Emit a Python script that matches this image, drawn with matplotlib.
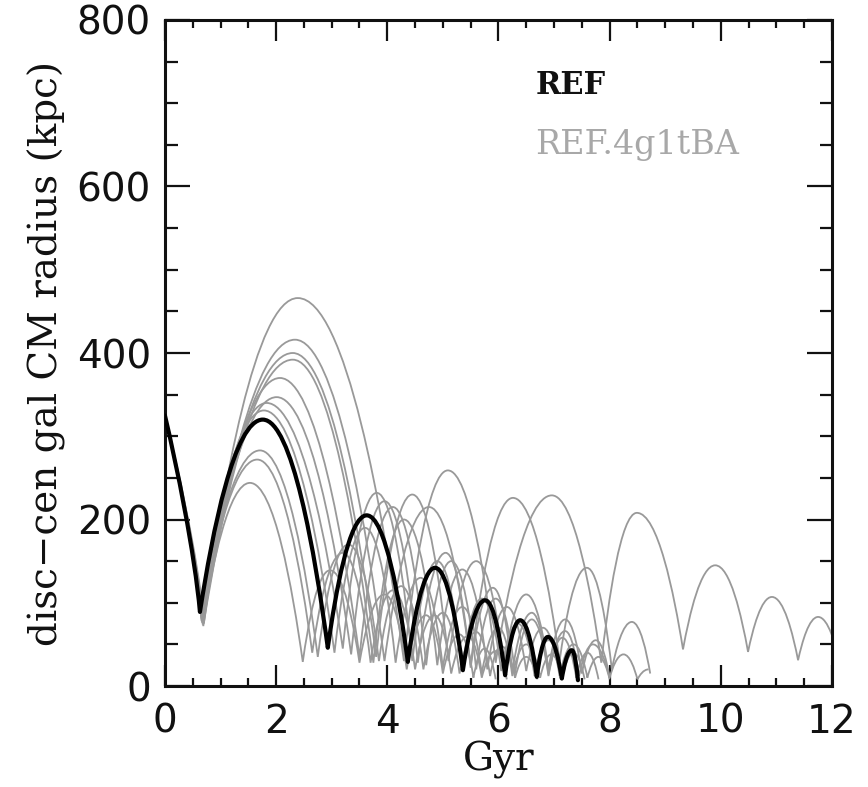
import matplotlib
matplotlib.use("Agg")
import matplotlib.pyplot as plt
from matplotlib.path import Path
from matplotlib.patches import PathPatch

# ---- data: turning points (time in Gyr, radius in kpc) ----
ref_t = [0.0, 0.63, 1.76, 2.93, 3.63, 4.37, 4.86, 5.36, 5.76, 6.12, 6.39, 6.69, 6.89, 7.14, 7.32, 7.43]
ref_r = [325, 89, 320, 46, 205, 29, 142, 19, 103, 13, 79, 11, 59, 9, 43, 7]

ba01_t = [0.0, 0.70, 2.39, 4.30, 5.09, 5.95, 6.96, 7.85, 8.49, 9.32, 9.90, 10.49, 10.92, 11.39, 11.75, 12.15]
ba01_r = [325, 75, 466, 30, 259, 28, 229, 28, 208, 44, 145, 41, 107, 31, 83, 25]
ba02_t = [0.0, 0.70, 2.34, 3.95, 4.75, 5.50, 6.26, 7.10, 7.59, 8.04, 8.40, 8.73]
ba02_r = [325, 80, 416, 30, 215, 25, 226, 30, 142, 20, 77, 15]
ba03_t = [0.0, 0.68, 2.30, 3.80, 4.45, 5.10, 5.60, 6.10, 6.50, 6.90, 7.20, 7.50, 7.75, 8.00]
ba03_r = [325, 78, 400, 35, 230, 30, 150, 25, 110, 20, 80, 15, 55, 10]
ba04_t = [0.0, 0.69, 2.30, 3.75, 4.30, 4.90, 5.35, 5.80, 6.15, 6.50, 6.80, 7.10, 7.35, 7.60, 7.80, 8.00]
ba04_r = [325, 72, 392, 28, 200, 25, 140, 20, 95, 18, 70, 12, 50, 10, 35, 8]
ba05_t = [0.0, 0.67, 2.07, 3.50, 4.10, 4.70, 5.15, 5.60, 5.95, 6.30, 6.60, 6.90, 7.15, 7.40, 7.60, 7.80]
ba05_r = [325, 80, 370, 35, 215, 25, 150, 20, 105, 15, 80, 12, 58, 10, 40, 8]
ba06_t = [0.0, 0.67, 2.01, 3.35, 3.95, 4.55, 5.05, 5.50, 5.90, 6.25, 6.60, 6.90, 7.20, 7.45, 7.70, 8.00, 8.25, 8.50, 8.70]
ba06_r = [325, 76, 347, 38, 222, 28, 160, 22, 118, 18, 88, 14, 66, 12, 50, 10, 38, 8, 20]
ba07_t = [0.0, 0.66, 1.83, 3.20, 3.81, 4.45, 4.90, 5.35, 5.70, 6.05, 6.35, 6.65, 6.90, 7.15, 7.35, 7.55]
ba07_r = [325, 82, 340, 45, 232, 30, 150, 22, 105, 18, 75, 12, 55, 10, 40, 8]
ba08_t = [0.0, 0.65, 1.78, 3.05, 3.60, 4.15, 4.60, 5.00, 5.35, 5.70, 6.00, 6.25, 6.50, 6.75, 6.95, 7.15]
ba08_r = [325, 85, 331, 40, 190, 28, 130, 22, 95, 15, 70, 12, 50, 10, 38, 8]
ba09_t = [0.0, 0.66, 1.71, 2.75, 3.30, 3.85, 4.25, 4.65, 5.00, 5.30, 5.60, 5.85, 6.05, 6.30, 6.50, 6.70]
ba09_r = [325, 80, 283, 35, 170, 30, 120, 20, 88, 15, 65, 12, 48, 10, 35, 8]
ba10_t = [0.0, 0.66, 1.66, 2.65, 3.20, 3.70, 4.10, 4.50, 4.85, 5.15, 5.45, 5.70, 5.95, 6.15]
ba10_r = [325, 78, 272, 40, 160, 28, 115, 20, 85, 15, 60, 10, 42, 8]
ba11_t = [0.0, 0.68, 1.53, 2.48, 2.97, 3.50, 3.95, 4.35, 4.70, 5.00, 5.30, 5.55, 5.75, 5.95]
ba11_r = [325, 74, 244, 29, 139, 28, 110, 20, 85, 15, 62, 10, 45, 8]

grey_t = [ba01_t, ba02_t, ba03_t, ba04_t, ba05_t, ba06_t, ba07_t, ba08_t, ba09_t, ba10_t, ba11_t]
grey_r = [ba01_r, ba02_r, ba03_r, ba04_r, ba05_r, ba06_r, ba07_r, ba08_r, ba09_r, ba10_r, ba11_r]

x_ticks = [0, 2, 4, 6, 8, 10, 12]
y_ticks = [0, 200, 400, 600, 800]
label_ref = "REF"
label_ba = "REF.4g1tBA"
x_label = "Gyr"
y_label = "disc\u2212cen gal CM radius (kpc)"

GREY = "#999999"
INK = "#111111"


def orbit_path(ts, rs):
    """Smooth orbit-like arcs through the turning points (Bezier curves)."""
    A, B, C = 0.2, 0.42, 0.45
    verts = [(ts[0], rs[0])]
    codes = [Path.MOVETO]
    for i in range(len(ts) - 1):
        t0, r0, t1, r1 = ts[i], rs[i], ts[i + 1], rs[i + 1]
        dt = t1 - t0
        if i == 0:
            c1 = (t0 + 0.33 * dt, r0 + 0.25 * (r1 - r0))
            c2 = (t1 - 0.15 * dt, r1 + 0.3 * (r0 - r1))
        elif r1 > r0:
            c1 = (t0 + A * dt, r0 + B * (r1 - r0))
            c2 = (t1 - C * dt, r1)
        else:
            c1 = (t0 + C * dt, r0)
            c2 = (t1 - A * dt, r1 + B * (r0 - r1))
        verts += [c1, c2, (t1, r1)]
        codes += [Path.CURVE4] * 3
    return Path(verts, codes)


fig = plt.figure(figsize=(8.68, 7.87), dpi=100)
ax = fig.add_axes([0.190, 0.1283, 0.7685, 0.8463])

for ts, rs in zip(grey_t, grey_r):
    ax.add_patch(PathPatch(orbit_path(ts, rs), facecolor="none", edgecolor=GREY,
                           lw=1.3, zorder=2))
ax.add_patch(PathPatch(orbit_path(ref_t, ref_r), facecolor="none", edgecolor="black",
                       lw=3.0, zorder=3, capstyle="round", joinstyle="round"))

ax.set_xlim(0, 12)
ax.set_ylim(0, 800)
ax.set_xticks(x_ticks)
ax.set_yticks(y_ticks)
ax.set_xticks([v * 0.5 for v in range(25)], minor=True)
ax.set_yticks([v * 50 for v in range(17)], minor=True)
ax.tick_params(which="both", direction="in", top=True, right=True, width=1.6, color=INK)
ax.tick_params(which="major", length=18, labelsize=28, pad=10)
ax.tick_params(axis="x", which="major", length=15, pad=12)
ax.tick_params(which="minor", length=9)
ax.tick_params(axis="x", which="minor", length=6)
for lab in ax.get_xticklabels() + ax.get_yticklabels():
    lab.set_family("DejaVu Sans")
    lab.set_color(INK)
for sp in ax.spines.values():
    sp.set_linewidth(2.2)
    sp.set_color(INK)

ax.set_xlabel(x_label, family="DejaVu Serif", fontsize=28, labelpad=0, color=INK)
ax.set_ylabel(y_label, family="DejaVu Serif", fontsize=28, labelpad=8, color=INK)

ax.text(0.555, 0.902, label_ref, transform=ax.transAxes, family="DejaVu Serif",
        fontsize=22, fontweight="semibold", color=INK, va="center", ha="left")
ax.text(0.555, 0.812, label_ba, transform=ax.transAxes, family="DejaVu Serif",
        fontsize=24, color="#a8a8a8", va="center", ha="left")

fig.savefig("out.png", dpi=100)
